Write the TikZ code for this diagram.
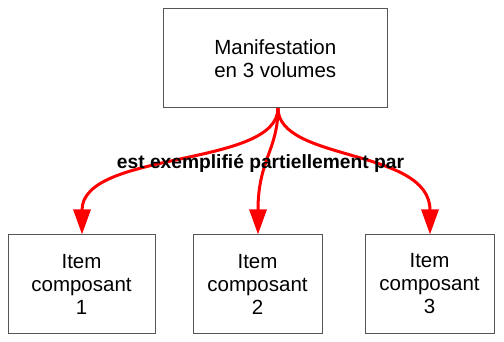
\documentclass[tikz,border=0pt]{standalone}
\usepackage{fontspec}
\setmainfont{Liberation Sans}
\usetikzlibrary{arrows.meta}
\definecolor{boxgray}{HTML}{555555}
\tikzset{
  entity/.style={draw=boxgray, line width=1pt, rectangle, align=center, inner sep=0pt,
    font=\fontsize{20.5}{23}\selectfont},
  relarrow/.style={draw=red, line width=3pt, -{Triangle[length=25pt,width=17pt]}},
  rellabel/.style={font=\fontsize{19.2}{22}\selectfont\bfseries, inner sep=0pt}
}
\begin{document}
\begin{tikzpicture}[x=1pt,y=-1pt]
\useasboundingbox (0,0) rectangle (504,342);
\node[entity, minimum width=223.5pt, minimum height=99pt] (m) at (275.25,58.5) {Manifestation\\en 3 volumes};
\node[entity, minimum width=147pt, minimum height=98pt] (i1) at (81.5,284) {Item\\composant\\1};
\node[entity, minimum width=129pt, minimum height=98pt] (i2) at (257.5,284) {Item\\composant\\2};
\node[entity, minimum width=129pt, minimum height=98pt] (i3) at (429.5,284) {Item\\composant\\3};
\coordinate (s) at (278,108);
\draw[relarrow] (s) .. controls (278,168) and (82,150) .. (i1.north -| 82,0);
\draw[relarrow] (s) .. controls (278,150) and (258,160) .. (i2.north -| 258,0);
\draw[relarrow] (s) .. controls (278,162) and (430,148) .. (i3.north -| 430,0);
\node[rellabel] (lbl) at (260.5,163) {est exemplifié partiellement par};
\end{tikzpicture}
\end{document}
